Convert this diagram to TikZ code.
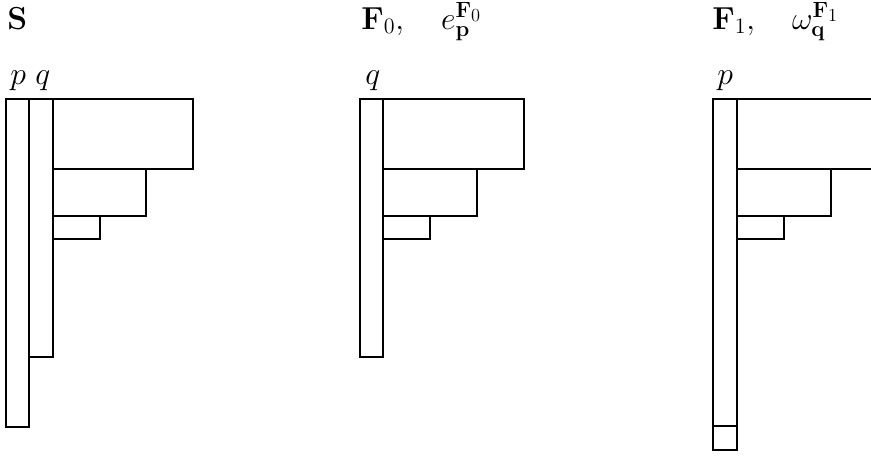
\documentclass[tikz,border=0pt]{standalone}
\usepackage{amsmath}
\usepackage{graphicx}
\newcommand{\bigtxt}[1]{\scalebox{1.15}{#1}}
\begin{document}
\begin{tikzpicture}[x=0.75pt,y=-0.75pt,
  box/.style={draw=black,line width=1.05pt,fill=none},
  lbl/.style={inner sep=0pt,anchor=base west,font=\fontsize{20.74}{24}\selectfont}]
\useasboundingbox (0,0) rectangle (871,455);
\clip (0,0) rectangle (871,455);
% titles
\node[lbl] (tS) at (7,29) {\bigtxt{$\mathbf{S}$}};
\node[lbl] (tF0) at (361,29) {\bigtxt{$\mathbf{F}_0,\quad e_{\mathbf{p}}^{\mathbf{F}_0}$}};
\node[lbl] (tF1) at (712,29) {\bigtxt{$\mathbf{F}_1,\quad \omega_{\mathbf{q}}^{\mathbf{F}_1}$}};
% column labels
\node[lbl] (lp1) at (10,84) {\bigtxt{$p$}};
\node[lbl] (lq1) at (35,84) {\bigtxt{$q$}};
\node[lbl] (lq2) at (365,84) {\bigtxt{$q$}};
\node[lbl] (lp3) at (717,84) {\bigtxt{$p$}};
% left panel S
\draw[box] (6,99) rectangle (29,427);
\draw[box] (29,99) rectangle (53,357);
\draw[box] (53,99) rectangle (193,169);
\draw[box] (53,169) rectangle (146,216);
\draw[box] (53,216) rectangle (100,239);
% middle panel F0
\draw[box] (360,99) rectangle (383,357);
\draw[box] (383,99) rectangle (524,169);
\draw[box] (383,169) rectangle (477,216);
\draw[box] (383,216) rectangle (430,239);
% right panel F1
\draw[box] (713,99) rectangle (737,450);
\draw[box] (713,426) rectangle (737,450);
\draw[box] (737,99) rectangle (878,169);
\draw[box] (737,169) rectangle (831,216);
\draw[box] (737,216) rectangle (784,239);
\end{tikzpicture}
\end{document}
